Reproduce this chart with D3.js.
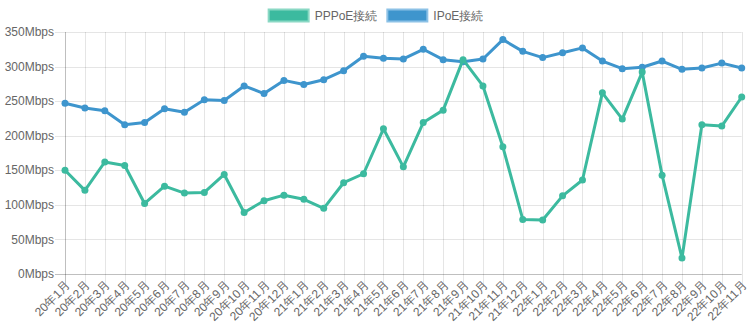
<!DOCTYPE html>
<html>
<head>
<meta charset="utf-8">
<script src="https://cdn.jsdelivr.net/npm/d3@7"></script>
<style>
  html, body { margin: 0; padding: 0; background: #fff; }
  svg { display: block; }
  text { font-family: "Liberation Sans", Arial, Helvetica, sans-serif; }
</style>
</head>
<body>
<svg id="chart" width="750" height="328"></svg>
<script>
// Monthly average speed, Jan 2020 – Nov 2022
const months = [
  "20年1月","20年2月","20年3月","20年4月","20年5月","20年6月","20年7月","20年8月","20年9月","20年10月","20年11月","20年12月",
  "21年1月","21年2月","21年3月","21年4月","21年5月","21年6月","21年7月","21年8月","21年9月","21年10月","21年11月","21年12月",
  "22年1月","22年2月","22年3月","22年4月","22年5月","22年6月","22年7月","22年8月","22年9月","22年10月","22年11月"
];
const pppoe = [
  150, 121, 162, 157, 102, 127, 117, 118, 144, 89, 106, 114,
  108, 95, 132, 145, 210, 155, 219, 237, 310, 272, 184, 79,
  78, 113, 136, 262, 224, 292, 143, 23, 216, 214, 256
];
const ipoe = [
  247, 240, 236, 216, 219, 239, 234, 252, 251, 272, 261, 280,
  274, 281, 294, 315, 312, 311, 325, 310, 307, 311, 339, 322,
  313, 320, 327, 308, 297, 299, 308, 296, 298, 305, 298
];
const yTicks = [0, 50, 100, 150, 200, 250, 300, 350];

const series = [
  { name: "PPPoE接続", values: pppoe, color: "#3cba9f", light: "#8ad8c4" },
  { name: "IPoE接続", values: ipoe, color: "#3e95cd", light: "#8cc1e6" }
];

const svg = d3.select("#chart");
const margin = { top: 32, right: 8, bottom: 54, left: 65 };
const W = 750, H = 328;

const x = d3.scalePoint().domain(months).range([margin.left, W - margin.right - 0.3]);
const y = d3.scaleLinear().domain([0, 350]).range([H - margin.bottom, margin.top]);

// Grid lines
const grid = svg.append("g");
grid.selectAll("line.h").data(yTicks).join("line")
  .attr("x1", margin.left - 10).attr("x2", x.range()[1])
  .attr("y1", d => Math.round(y(d)) + 0.5).attr("y2", d => Math.round(y(d)) + 0.5)
  .attr("stroke", d => d === 0 ? "rgba(0,0,0,0.25)" : "rgba(0,0,0,0.1)");
grid.selectAll("line.v").data(months).join("line")
  .attr("x1", d => Math.round(x(d)) + 0.5).attr("x2", d => Math.round(x(d)) + 0.5)
  .attr("y1", y(350)).attr("y2", y(0) + 10)
  .attr("stroke", (d, i) => i === 0 ? "rgba(0,0,0,0.25)" : "rgba(0,0,0,0.1)");

// Y axis labels
svg.append("g").selectAll("text").data(yTicks).join("text")
  .attr("x", margin.left - 11).attr("y", d => y(d))
  .attr("dy", "0.35em").attr("text-anchor", "end")
  .attr("font-size", 12).attr("fill", "#666")
  .text(d => d + "Mbps");

// X axis labels, rotated
svg.append("g").selectAll("text").data(months).join("text")
  .attr("transform", d => `translate(${x(d) + 3},${y(0) + 9}) rotate(-45)`)
  .attr("text-anchor", "end").attr("dy", "0.35em")
  .attr("font-size", 12).attr("fill", "#666")
  .text(d => d);

// Lines and points; first series drawn last so it sits on top
const line = d3.line().x((d, i) => x(months[i])).y(d => y(d));
series.slice().reverse().forEach(s => {
  const g = svg.append("g");
  g.append("path").datum(s.values)
    .attr("d", line).attr("fill", "none")
    .attr("stroke", s.color).attr("stroke-width", 3)
    .attr("stroke-linejoin", "round");
  g.selectAll("circle").data(s.values).join("circle")
    .attr("cx", (d, i) => x(months[i])).attr("cy", d => y(d))
    .attr("r", 3.5).attr("fill", s.color);
});

// Legend
const legend = svg.append("g");
const fontSize = 12, boxW = 40, gap = 10;
const measure = svg.append("text").attr("font-size", fontSize).attr("visibility", "hidden");
const items = series.map(s => {
  measure.text(s.name);
  return { s, w: measure.node().getComputedTextLength() };
});
measure.remove();
const total = d3.sum(items, d => boxW + 6 + d.w) + gap * (items.length - 1);
let lx = (W - total) / 2 + 1;
items.forEach(it => {
  legend.append("rect")
    .attr("x", lx).attr("y", 9.5).attr("width", boxW).attr("height", fontSize)
    .attr("fill", it.s.color).attr("stroke", it.s.light).attr("stroke-width", 2);
  legend.append("text")
    .attr("x", lx + boxW + 6).attr("y", 15.5).attr("dy", "0.35em")
    .attr("font-size", fontSize).attr("fill", "#666").text(it.s.name);
  lx += boxW + 6 + it.w + gap;
});
</script>
</body>
</html>
